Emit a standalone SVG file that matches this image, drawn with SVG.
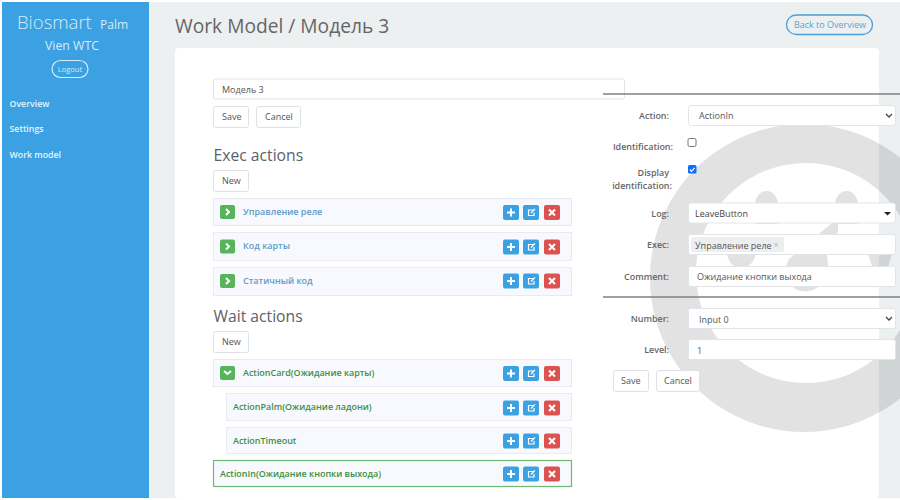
<svg xmlns="http://www.w3.org/2000/svg" width="900" height="500" viewBox="0 0 900 500">
<style>
text{font-family:"Open Sans","Noto Sans","DejaVu Sans",sans-serif;fill:#555}
.box{fill:#f8f9fe;stroke:#e8ebf1;stroke-width:1}
.btn{fill:#fff;stroke:#dfe2e5;stroke-width:1}
.inp{fill:#fff;stroke:#e2e5e8;stroke-width:1}
.t12{font-size:9px}
.lab{font-size:8.950px;font-weight:600;text-anchor:end;fill:#666}
.blue{fill:#3ca1e2}.red{fill:#dc5250}.green{fill:#56b45a}
.tb{font-size:9px;font-weight:600;fill:#5f9cc6}
.tg{font-size:8.950px;font-weight:600;fill:#3d8f3f}
.h{font-size:15.700px;fill:#5c6166}
.w{stroke:#fff;stroke-width:2;fill:none}
.w1{stroke:#fff;stroke-width:1.2;fill:none}
.rule{stroke:#808080;stroke-width:1.5}
.ch{stroke:#444;stroke-width:1.3;fill:none}
.side{fill:#d5ebf9}
.nav{font-size:8.800px;font-weight:600;fill:#e6f3fb}
</style>
<defs>
<g id="acts">
<rect class="blue" x="0" y="0" width="16" height="15" rx="2"/><path class="w" d="M4 7.500H12M8 3.500V11.500"/>
<rect class="blue" x="20" y="0" width="16" height="15" rx="2"/><path class="w1" d="M30.500 5H25.500V10.500H31V7.500M28 8L32 3.800"/>
<rect class="red" x="41" y="0" width="16" height="15" rx="2"/><path class="w" d="M46 4.500L52 10.500M52 4.500L46 10.500"/>
</g>
</defs>
<rect width="900" height="500" fill="#fff"/>
<rect x="149" y="2" width="751" height="496" fill="#ecf0f1"/>
<rect x="175" y="48" width="704" height="450" rx="4" fill="#fff"/>
<g id="watermark" fill="#000" opacity="0.11">
<path fill-rule="evenodd" d="M804 124a154 154 0 1 0 .01 0ZM806 163a110 110 0 1 1-.01 0Z"/>
<path d="M755 224V205a11.500 14 0 0 1 23 0V224ZM835 224V205a11.500 14 0 0 1 23 0V224Z"/>
<path d="M838 218L790 258Q780 272 790 285Q805 298 821 285Q832 272 826 252L838 232Z"/>
<path d="M727 254H756Q752 268 741 268Q730 268 727 254Z"/>
<path d="M868 254H892L888 268Q878 268 872 266Z"/>
</g>
<g id="sidebar">
<rect x="2" y="2" width="147" height="496" fill="#3ca1e2"/>
<text class="side" x="17" y="29" font-size="18.500" font-weight="300">Biosmart</text>
<text class="side" x="100" y="29" font-size="12">Palm</text>
<text class="side" x="45" y="50" font-size="12.300">Vien WTC</text>
<rect x="52" y="60.500" width="36" height="17" rx="8.500" fill="none" stroke="#d5ebf9" stroke-width="1.200"/>
<text class="side" x="70" y="72" font-size="7.500" text-anchor="middle">Logout</text>
<text class="nav" x="9.500" y="107">Overview</text>
<text class="nav" x="9.500" y="132">Settings</text>
<text class="nav" x="9.500" y="158">Work model</text>
</g>
<g id="header">
<text x="175" y="33" font-size="19.200" style="fill:#666">Work Model / Модель 3</text>
<rect x="786.500" y="15" width="86" height="19.500" rx="9.700" fill="none" stroke="#4a9fd8" stroke-width="1.300"/>
<text x="830" y="28" font-size="9" text-anchor="middle" style="fill:#5f9fd0">Back to Overview</text>
</g>
<g id="model-form">
<rect class="inp" x="213.500" y="79" width="411" height="20" rx="2"/>
<text class="t12" x="222" y="93">Модель 3</text>
<rect class="btn" x="213.500" y="106.500" width="35" height="21" rx="2"/><text class="t12" x="222" y="120">Save</text>
<rect class="btn" x="256.500" y="106.500" width="44" height="21" rx="2"/><text class="t12" x="265" y="120">Cancel</text>
<text class="h" x="213.500" y="161">Exec actions</text>
<rect class="btn" x="213.500" y="170.500" width="35" height="21" rx="2"/><text class="t12" x="222" y="184">New</text>
<text class="h" x="213.500" y="322">Wait actions</text>
<rect class="btn" x="213.500" y="331.500" width="35" height="21" rx="2"/><text class="t12" x="222" y="345">New</text>
</g>
<g id="exec-1"><rect class="box" x="213.500" y="198.500" width="358" height="27"/><rect class="green" x="220" y="205" width="15" height="14" rx="2"/><path class="w" d="M226 209l3 3-3 3"/><text class="tb" x="243" y="215">Управление реле</text><use href="#acts" x="503" y="205"/></g>
<g id="exec-2"><rect class="box" x="213.500" y="232.500" width="358" height="28"/><rect class="green" x="220" y="239.500" width="15" height="14" rx="2"/><path class="w" d="M226 243.500l3 3-3 3"/><text class="tb" x="243" y="249">Код карты</text><use href="#acts" x="503" y="239.500"/></g>
<g id="exec-3"><rect class="box" x="213.500" y="267.500" width="358" height="28"/><rect class="green" x="220" y="274" width="15" height="14" rx="2"/><path class="w" d="M226 278l3 3-3 3"/><text class="tb" x="243" y="284">Статичный код</text><use href="#acts" x="503" y="273.500"/></g>
<g id="wait-1"><rect class="box" x="213.500" y="359.500" width="358" height="27"/><rect class="green" x="220" y="366" width="15" height="14" rx="2"/><path class="w" d="M224 371l3.500 3 3.500-3"/><text class="tg" x="243" y="376">ActionCard(Ожидание карты)</text><use href="#acts" x="503" y="366"/></g>
<g id="wait-2"><rect class="box" x="226.500" y="393.500" width="345" height="27"/><text class="tg" x="233" y="410">ActionPalm(Ожидание ладони)</text><use href="#acts" x="503" y="400.500"/></g>
<g id="wait-3"><rect class="box" x="226.500" y="427.500" width="345" height="26"/><text class="tg" x="233" y="444">ActionTimeout</text><use href="#acts" x="503" y="433.500"/></g>
<g id="wait-4"><rect x="213.500" y="460.500" width="358" height="26" fill="#f8f9fe" stroke="#6fbb72" stroke-width="1.200"/><text class="tg" x="220" y="477">ActionIn(Ожидание кнопки выхода)</text><use href="#acts" x="503" y="466.500"/></g>
<g id="action-form">
<line class="rule" x1="603" y1="94" x2="900" y2="94"/>
<line class="rule" x1="603" y1="297" x2="900" y2="297"/>
<text class="lab" x="669" y="119">Action:</text>
<rect class="inp" x="688.500" y="105.500" width="207" height="20" rx="3"/><text class="t12" x="699" y="119">ActionIn</text><path class="ch" d="M886 114l3 3 3-3"/>
<text class="lab" x="673" y="150">Identification:</text>
<rect x="688" y="138.500" width="8" height="8" rx="1.500" fill="#fff" stroke="#777"/>
<text class="lab" x="669" y="176">Display</text><text class="lab" x="672" y="189">identification:</text>
<rect x="688" y="165" width="8.500" height="8.500" rx="1.500" fill="#0d6efd"/><path class="w1" d="M689.800 169.500l1.800 1.800 3-3.500"/>
<text class="lab" x="669" y="217">Log:</text>
<rect class="inp" x="688.500" y="203" width="207" height="20" rx="2"/><text class="t12" x="695" y="217" style="fill:#444">LeaveButton</text><path d="M884 212h7l-3.500 3.500Z" fill="#222"/>
<text class="lab" x="669" y="248">Exec:</text>
<rect class="inp" x="688.500" y="234.500" width="207" height="20" rx="2"/><rect x="691" y="237" width="93" height="15" rx="2" fill="#eceeef"/><text class="t12" x="695" y="249">Управление реле</text><text x="776" y="248" font-size="9" style="fill:#bbb" text-anchor="middle">×</text>
<text class="lab" x="669" y="280">Comment:</text>
<rect class="inp" x="688.500" y="266.500" width="207" height="20" rx="2"/><text class="t12" x="697" y="280">Ожидание кнопки выхода</text>
<text class="lab" x="669" y="322">Number:</text>
<rect class="inp" x="688.500" y="308.500" width="207" height="20" rx="2"/><text class="t12" x="699" y="323">Input 0</text><path class="ch" d="M886 317l3 3 3-3"/>
<text class="lab" x="669" y="353">Level:</text>
<rect class="inp" x="688.500" y="339.500" width="207" height="20" rx="2"/><text class="t12" x="697" y="354">1</text>
<rect class="btn" x="613.500" y="370.500" width="35" height="21" rx="2"/><text class="t12" x="621" y="384">Save</text>
<rect class="btn" x="656.500" y="370.500" width="43" height="21" rx="2"/><text class="t12" x="664" y="384">Cancel</text>
</g>
</svg>
